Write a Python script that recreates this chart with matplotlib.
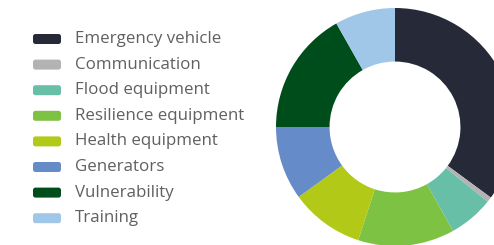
import matplotlib
matplotlib.use("Agg")
import matplotlib.pyplot as plt
from matplotlib.patches import FancyBboxPatch

categories = ["Emergency vehicle", "Communication", "Flood equipment", "Resilience equipment",
              "Health equipment", "Generators", "Vulnerability", "Training"]
values = [35.1, 0.7, 6.1, 13.1, 10.0, 10.0, 16.8, 8.2]
colors = ["#262a38", "#b3b3b3", "#66bfa6", "#7dc242", "#b2c918", "#658bc8", "#004d1c", "#a0c6e8"]

W, H = 494, 245
fig = plt.figure(figsize=(W / 100, H / 100), dpi=100)
fig.patch.set_facecolor("white")

cx, cy, r = 395, 127, 119
ax = fig.add_axes([(cx - r) / W, (H - cy - r) / H, 2 * r / W, 2 * r / H])
ax.pie(values, colors=colors, startangle=90, counterclock=False, radius=1,
       wedgeprops=dict(width=0.45, edgecolor="none"))
ax.set_xlim(-1, 1)
ax.set_ylim(-1, 1)
ax.set_aspect("auto")
ax.axis("off")

lax = fig.add_axes([0, 0, 1, 1])
lax.set_xlim(0, W)
lax.set_ylim(H, 0)
lax.axis("off")
y0, dy = 39, 25.6
for i, (lab, c) in enumerate(zip(categories, colors)):
    y = y0 + i * dy
    lax.add_patch(FancyBboxPatch((33, y - 5), 28, 10, boxstyle="round,pad=0,rounding_size=2.5",
                                 facecolor=c, edgecolor="none"))
    lax.text(75, y, lab, fontsize=12.2, family="Open Sans", color="#606060", va="center", ha="left")

fig.savefig("out.png", dpi=100)
